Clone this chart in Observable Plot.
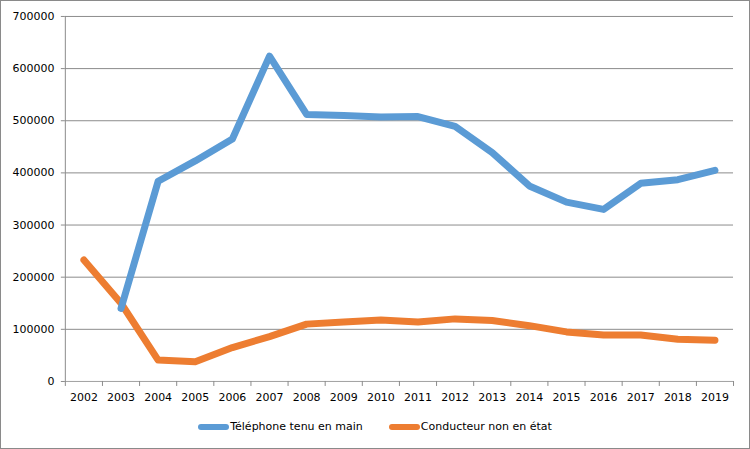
<!DOCTYPE html>
<html>
<head>
<meta charset="utf-8">
<script src="https://cdn.jsdelivr.net/npm/d3@7"></script>
<script src="https://cdn.jsdelivr.net/npm/@observablehq/plot@0.6"></script>
<style>
  html, body { margin: 0; padding: 0; background: #fff; }
  #frame { width: 750px; height: 449px; box-sizing: border-box; border: 1px solid #8a8a8a; position: relative; overflow: hidden; font-family: "DejaVu Sans", Verdana, sans-serif; }
  #chart svg { display: block; position: absolute; left: -1px; top: -1px; }
  #legend { position: absolute; left: -1px; top: 419px; width: 750px; display: flex; justify-content: center; gap: 26px; font-size: 11px; color: #000; }
  .item { display: flex; align-items: center; }
  .sw { width: 31px; height: 6px; border-radius: 3px; margin-right: 1px; }
</style>
</head>
<body>
<div id="frame">
  <div id="chart"></div>
  <div id="legend"></div>
</div>
<script>
const years = [2002,2003,2004,2005,2006,2007,2008,2009,2010,2011,2012,2013,2014,2015,2016,2017,2018,2019];
const telephone = [null,140000,384000,423000,465000,624000,512000,510000,507000,508000,489000,439000,375000,344000,330000,380000,387000,405000];
const conducteur = [233000,150000,41000,38000,65000,86000,110000,114000,118000,114000,120000,117000,107000,95000,89000,89000,81000,79000];
const seriesNames = ["Téléphone tenu en main", "Conducteur non en état"];
const seriesColors = ["#5B9BD5", "#ED7D31"];
const yTicks = [0,100000,200000,300000,400000,500000,600000,700000];

const rows = [];
years.forEach((yr, i) => {
  if (telephone[i] != null) rows.push({year: yr, value: telephone[i], series: seriesNames[0]});
  if (conducteur[i] != null) rows.push({year: yr, value: conducteur[i], series: seriesNames[1]});
});
const boundaries = years.map(y => y - 0.5).concat([years[years.length - 1] + 0.5]);

const chart = Plot.plot({
  width: 750,
  height: 406,
  marginLeft: 65,
  marginRight: 15,
  marginTop: 16,
  marginBottom: 24,
  style: {fontFamily: "'DejaVu Sans', Verdana, sans-serif", fontSize: "11px", color: "#000", background: "transparent"},
  x: {domain: [years[0] - 0.5, years[years.length - 1] + 0.5]},
  y: {domain: [0, 700000]},
  color: {domain: seriesNames, range: seriesColors},
  marks: [
    Plot.gridY(yTicks, {stroke: "#8c8c8c", strokeOpacity: 1, strokeWidth: 1}),
    Plot.ruleY([0], {stroke: "#a6a6a6"}),
    Plot.ruleX([years[0] - 0.5], {stroke: "#8c8c8c"}),
    Plot.axisY(yTicks, {tickSize: 4, tickPadding: 7, tickFormat: d => String(d), label: null, stroke: "#8c8c8c", fill: "#000"}),
    Plot.axisX(boundaries, {tickSize: 5, tickFormat: () => "", label: null, stroke: "#8c8c8c"}),
    Plot.axisX(years, {tickSize: 0, tickPadding: 12, tickFormat: d => String(d), label: null, fill: "#000"}),
    Plot.line(rows, {x: "year", y: "value", z: "series", stroke: "series", strokeWidth: 7, strokeLinejoin: "round", strokeLinecap: "round"})
  ]
});
document.getElementById("chart").appendChild(chart);

const legend = document.getElementById("legend");
seriesNames.forEach((name, i) => {
  const it = document.createElement("div");
  it.className = "item";
  const sw = document.createElement("span");
  sw.className = "sw";
  sw.style.background = seriesColors[i];
  const tx = document.createElement("span");
  tx.textContent = name;
  it.appendChild(sw);
  it.appendChild(tx);
  legend.appendChild(it);
});
</script>
</body>
</html>
